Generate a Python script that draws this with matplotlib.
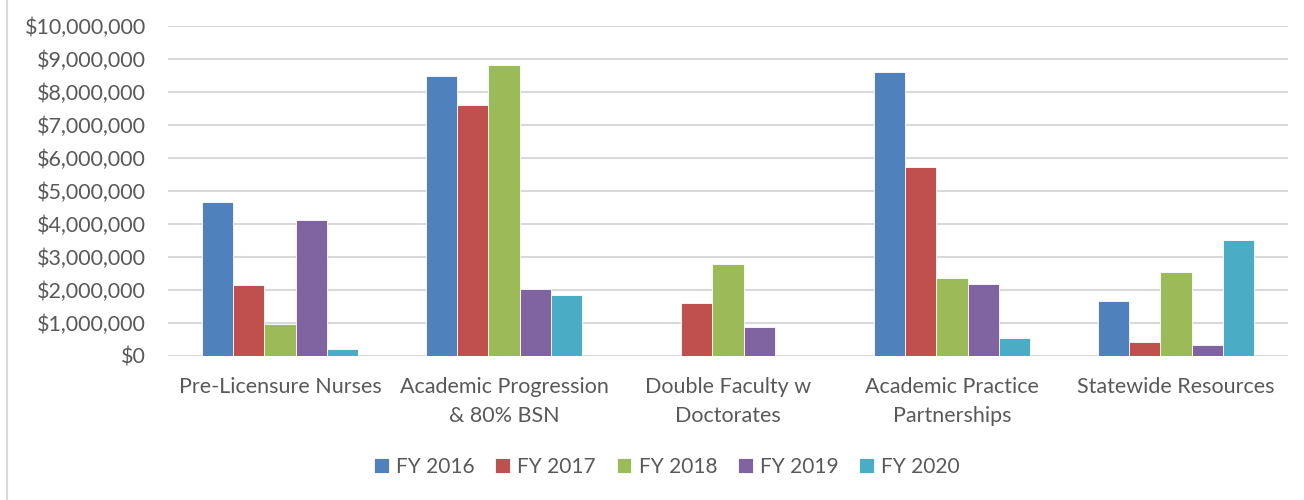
import numpy as np
import matplotlib.pyplot as plt
from matplotlib.ticker import FuncFormatter

categories = ["Pre-Licensure Nurses", "Academic Progression\n& 80% BSN",
              "Double Faculty w\nDoctorates", "Academic Practice\nPartnerships",
              "Statewide Resources"]
series = ["FY 2016", "FY 2017", "FY 2018", "FY 2019", "FY 2020"]
fy2016 = [4660000, 8490000, 0, 8610000, 1660000]
fy2017 = [2150000, 7610000, 1600000, 5740000, 420000]
fy2018 = [960000, 8810000, 2780000, 2350000, 2540000]
fy2019 = [4120000, 2030000, 880000, 2180000, 330000]
fy2020 = [210000, 1840000, 0, 560000, 3520000]
colors = ["#4F81BD", "#C0504D", "#9BBB59", "#8064A2", "#4BACC6"]

plt.rcParams["font.family"] = ["Lato", "DejaVu Sans"]
txt = "#595959"

fig = plt.figure(figsize=(13.04, 5.0), dpi=100)
ax = fig.add_axes([168 / 1304, 1 - 356 / 500, 1120 / 1304, 330 / 500])

x = np.arange(len(categories))
w = 0.139
for i, (name, vals) in enumerate(zip(series, [fy2016, fy2017, fy2018, fy2019, fy2020])):
    ax.bar(x + (i - 2) * w, vals, width=w, color=colors[i], label=name,
           edgecolor="white", linewidth=0.6, zorder=3)

ax.set_xlim(-0.5, len(categories) - 0.5)
ax.set_ylim(0, 10000000)
ax.set_yticks(np.arange(0, 10000001, 1000000))
ax.yaxis.set_major_formatter(FuncFormatter(lambda v, p: f"${v:,.0f}"))
ax.set_xticks(x)
ax.set_xticklabels(categories, linespacing=1.6)
ax.tick_params(axis="both", length=0, labelsize=15.5, colors=txt)
ax.tick_params(axis="y", pad=16)
ax.tick_params(axis="x", pad=15)
ax.grid(axis="y", color="#d9d9d9", linewidth=1.5, zorder=0)
for s in ax.spines.values():
    s.set_visible(False)

fig.legend(loc="center", bbox_to_anchor=(667 / 1304, 1 - 467 / 500), ncol=5,
           frameon=False, fontsize=15, handlelength=0.7, handleheight=0.7,
           handletextpad=0.35, columnspacing=1.0, labelcolor=txt)

fig.add_artist(plt.Line2D([7 / 1304, 7 / 1304], [0, 1], color="#d9d9d9", linewidth=1.5))

fig.savefig("out.png", dpi=100)
